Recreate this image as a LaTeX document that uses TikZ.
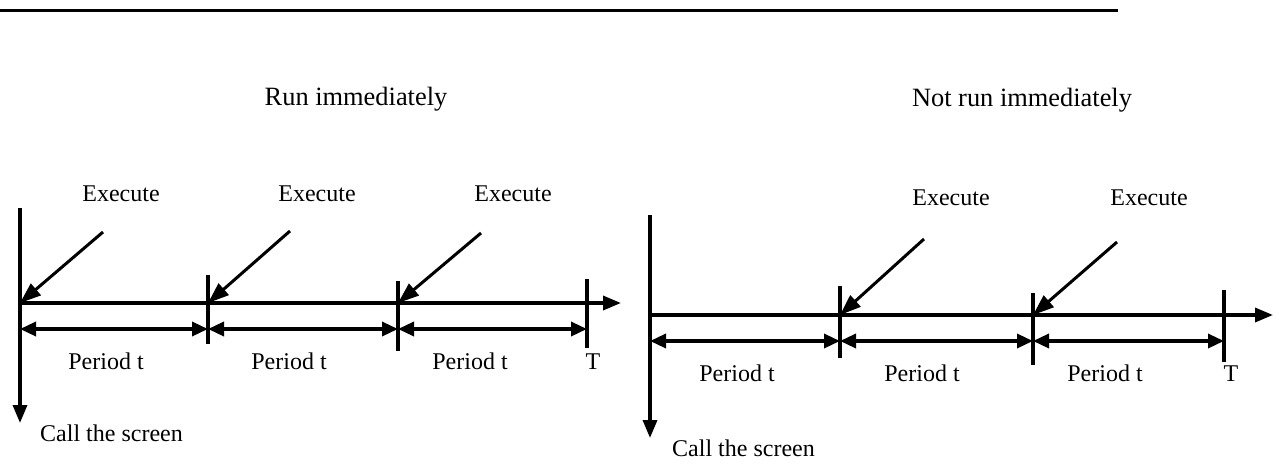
\documentclass[tikz,border=0pt]{standalone}
\usepackage{fontspec}
\setmainfont{Liberation Serif}
\usetikzlibrary{arrows.meta}
\tikzset{
  axis/.style={line width=3.4pt, -{Triangle[length=18pt,width=14pt]}},
  tickline/.style={line width=3.2pt},
  span/.style={line width=3.4pt, {Triangle[length=16pt,width=14pt]}-{Triangle[length=16pt,width=14pt]}},
  exarrow/.style={line width=3pt, -{Triangle[length=21pt,width=15pt]}},
  lbl/.style={font=\fontsize{24}{28}\selectfont, anchor=base, inner sep=0pt},
  ttl/.style={font=\fontsize{26.4}{30}\selectfont, anchor=base, inner sep=0pt},
}
\begin{document}
\begin{tikzpicture}[x=1pt,y=-1pt]
\useasboundingbox (0,0) rectangle (1286,466);
% top rule
\coordinate (r1) at (0,10);
\coordinate (r2) at (1118,10);
\draw[line width=3pt] (r1) -- (r2);

% ===== Left diagram =====
\node[ttl] (titleL) at (356,105) {Run immediately};
\coordinate (La) at (20,208);
\coordinate (Lb) at (20,423);
\coordinate (Lo) at (20,303);
\coordinate (Le) at (621,303);
\draw[axis] (La) -- (Lb);
\draw[axis] (Lo) -- (Le);
% ticks
\coordinate (L1t) at (208,275); \coordinate (L1b) at (208,344);
\coordinate (L2t) at (398,281); \coordinate (L2b) at (398,351);
\coordinate (L3t) at (587,279); \coordinate (L3b) at (587,348);
\draw[tickline] (L1t) -- (L1b);
\draw[tickline] (L2t) -- (L2b);
\draw[tickline] (L3t) -- (L3b);
\coordinate (L1x) at (208,303);
\coordinate (L2x) at (398,303);
% spans
\coordinate (Ld0) at (20,329);
\coordinate (Ld1) at (208,329);
\coordinate (Ld2) at (398,329);
\coordinate (Ld3) at (587,329);
\draw[span] (Ld0) -- (Ld1);
\draw[span] (Ld1) -- (Ld2);
\draw[span] (Ld2) -- (Ld3);
% execute arrows
\coordinate (Ls1) at (103,232);
\coordinate (Ls2) at (290,231);
\coordinate (Ls3) at (481,233);
\draw[exarrow] (Ls1) -- (Lo);
\draw[exarrow] (Ls2) -- (L1x);
\draw[exarrow] (Ls3) -- (L2x);
\node[lbl] (LE1) at (121,201) {Execute};
\node[lbl] (LE2) at (317,201) {Execute};
\node[lbl] (LE3) at (513,201) {Execute};
\node[lbl] (LP1) at (106,369) {Period t};
\node[lbl] (LP2) at (289,369) {Period t};
\node[lbl] (LP3) at (470,369) {Period t};
\node[lbl] (LT) at (593,369) {T};
\node[lbl, anchor=base west] (LC) at (40,441) {Call the screen};

% ===== Right diagram =====
\node[ttl] (titleR) at (1022,106) {Not run immediately};
\coordinate (Ra) at (650,215);
\coordinate (Rb) at (650,438);
\coordinate (Ro) at (650,315);
\coordinate (Re) at (1273,315);
\draw[axis] (Ra) -- (Rb);
\draw[axis] (Ro) -- (Re);
\coordinate (R1t) at (840,286); \coordinate (R1b) at (840,358);
\coordinate (R2t) at (1033,293); \coordinate (R2b) at (1033,365);
\coordinate (R3t) at (1224,290); \coordinate (R3b) at (1224,362);
\draw[tickline] (R1t) -- (R1b);
\draw[tickline] (R2t) -- (R2b);
\draw[tickline] (R3t) -- (R3b);
\coordinate (R1x) at (840,315);
\coordinate (R2x) at (1033,315);
\coordinate (Rd0) at (650,341);
\coordinate (Rd1) at (840,341);
\coordinate (Rd2) at (1033,341);
\coordinate (Rd3) at (1224,341);
\draw[span] (Rd0) -- (Rd1);
\draw[span] (Rd1) -- (Rd2);
\draw[span] (Rd2) -- (Rd3);
\coordinate (Rs1) at (924,239);
\coordinate (Rs2) at (1117,242);
\draw[exarrow] (Rs1) -- (R1x);
\draw[exarrow] (Rs2) -- (R2x);
\node[lbl] (RE1) at (951,205) {Execute};
\node[lbl] (RE2) at (1149,205) {Execute};
\node[lbl] (RP1) at (737,381) {Period t};
\node[lbl] (RP2) at (922,381) {Period t};
\node[lbl] (RP3) at (1105,381) {Period t};
\node[lbl] (RT) at (1231,381) {T};
\node[lbl, anchor=base west] (RC) at (672,456) {Call the screen};
\end{tikzpicture}
\end{document}
